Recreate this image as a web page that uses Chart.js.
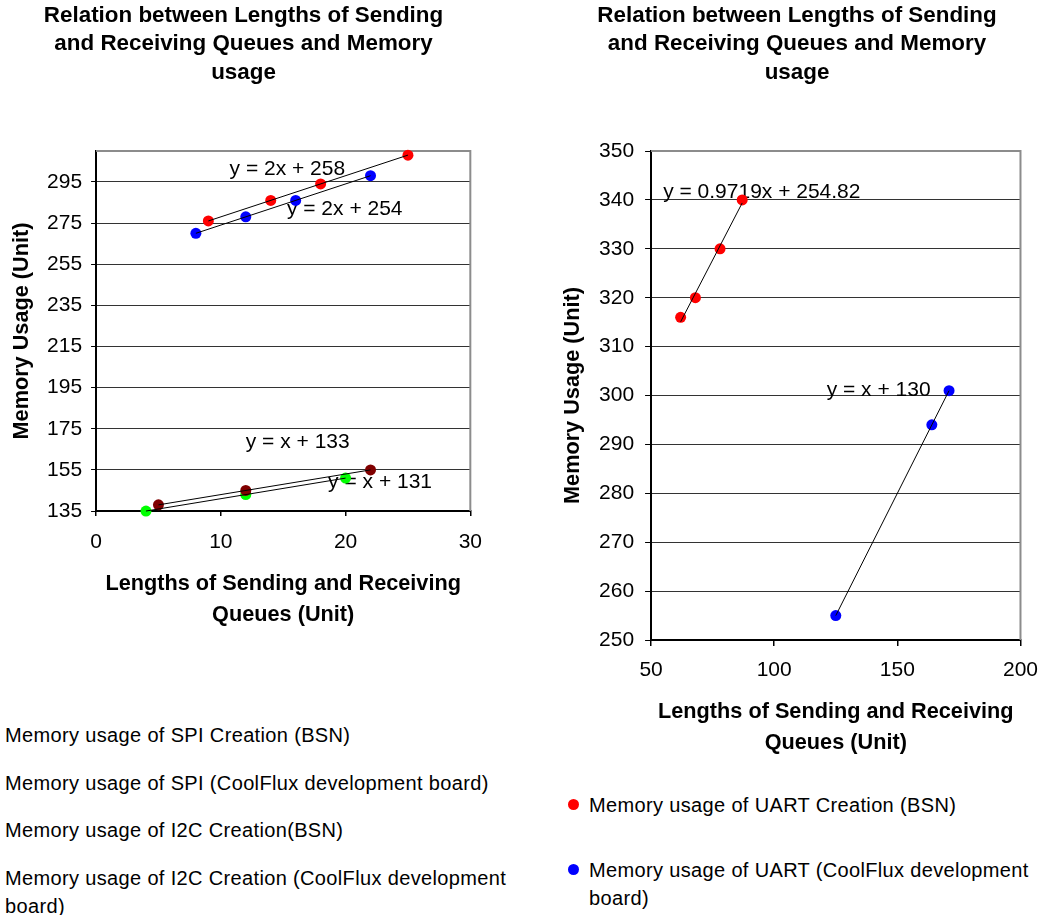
<!DOCTYPE html>
<html>
<head>
<meta charset="utf-8">
<title>Memory usage vs queue lengths</title>
<script src="https://cdn.jsdelivr.net/npm/chart.js@4.4.1/dist/chart.umd.min.js"></script>
<style>
  body { margin: 0; background: #fff; width: 1041px; height: 915px; overflow: hidden; position: relative;
         font-family: "Liberation Sans", Arial, sans-serif; color: #000; }
  .box { position: absolute; top: 0; }
  #leftBox { left: 0; width: 496px; height: 640px; }
  #rightBox { left: 541px; width: 509px; height: 760px; }
  .legend { position: absolute; font-size: 20px; letter-spacing: 0.35px; line-height: 28px; }
  #leftLegend { left: 5px; top: 721px; width: 515px; }
  #leftLegend .item { margin-bottom: 19.7px; }
  #rightLegend { left: 568px; top: 791px; width: 470px; }
  #rightLegend .item { margin-bottom: 37px; display: flex; align-items: flex-start; }
  .mark { flex: none; width: 11px; height: 11px; border-radius: 50%; margin: 8px 10px 0 0; }
</style>
</head>
<body>
<div id="leftBox" class="box"><canvas id="leftChart"></canvas></div>
<div id="rightBox" class="box"><canvas id="rightChart"></canvas></div>
<div id="leftLegend" class="legend"></div>
<div id="rightLegend" class="legend"></div>

<script>
// -------------------------------------------------------------
// Left chart data: SPI / I2C
// -------------------------------------------------------------
const spiBsnX = [9, 14, 18, 25];
const spiBsnY = [276, 286, 294, 308];
const spiBoardX = [8, 12, 16, 22];
const spiBoardY = [270, 278, 286, 298];
const i2cBsnX = [5, 12, 22];
const i2cBsnY = [138, 145, 155];
const i2cBoardX = [4, 12, 20];
const i2cBoardY = [135, 143, 151];

const leftXTicks = [0, 10, 20, 30];
const leftYTicks = [135, 155, 175, 195, 215, 235, 255, 275, 295];

// trendline equations printed on the chart
const leftSlope = [2, 2, 1, 1];
const leftIntercept = [258, 254, 133, 131];
const leftEqText = ['y = 2x + 258', 'y = 2x + 254', 'y = x + 133', 'y = x + 131'];

// -------------------------------------------------------------
// Right chart data: UART
// -------------------------------------------------------------
const uartBsnX = [62, 68, 78, 87];
const uartBsnY = [316, 320, 330, 340];
const uartBoardX = [125, 164, 171];
const uartBoardY = [255, 294, 301];

const rightXTicks = [50, 100, 150, 200];
const rightYTicks = [250, 260, 270, 280, 290, 300, 310, 320, 330, 340, 350];

const rightSlope = [0.9719, 1];
const rightIntercept = [254.82, 130];
const rightEqText = ['y = 0.9719x + 254.82', 'y = x + 130'];

Chart.defaults.font.family = '"Liberation Sans", Arial, sans-serif';
Chart.defaults.color = '#000';

const FONT = '"Liberation Sans", Arial, sans-serif';

// -------------------------------------------------------------
// helpers
// -------------------------------------------------------------
function pointSet(label, xs, ys, color) {
  return {
    label: label,
    data: xs.map((x, i) => ({ x: x, y: ys[i] })),
    backgroundColor: color,
    borderColor: color,
    pointRadius: 5.5,
    pointHoverRadius: 5.5,
    pointBorderWidth: 0,
    showLine: false,
    clip: false,
    order: 2
  };
}

function trendSet(xs, slope, intercept) {
  const x0 = Math.min(...xs);
  const x1 = Math.max(...xs);
  return {
    label: 'trend',
    isTrend: true,
    data: [{ x: x0, y: slope * x0 + intercept }, { x: x1, y: slope * x1 + intercept }],
    showLine: true,
    borderColor: '#000',
    borderWidth: 1,
    pointRadius: 0,
    pointHoverRadius: 0,
    clip: false,
    order: 1
  };
}

function fixedTicks(values) {
  return (axis) => { axis.ticks = values.map(v => ({ value: v })); };
}

// grey top / right border of the plot area
const framePlugin = {
  id: 'frame',
  beforeDatasetsDraw(chart) {
    const { ctx, chartArea: a } = chart;
    ctx.save();
    ctx.strokeStyle = '#8c8c8c';
    ctx.lineWidth = 2;
    ctx.beginPath();
    ctx.moveTo(a.left, a.top);
    ctx.lineTo(a.right, a.top);
    ctx.lineTo(a.right, a.bottom);
    ctx.stroke();
    ctx.restore();
  }
};

// trendline equation texts, anchored in data coordinates
const eqPlugin = {
  id: 'eqLabels',
  beforeDatasetsDraw(chart, args, opts) {
    const { ctx, scales } = chart;
    ctx.save();
    ctx.font = '21px ' + FONT;
    ctx.fillStyle = '#000';
    ctx.textAlign = 'left';
    ctx.textBaseline = 'middle';
    (opts.items || []).forEach(it => {
      ctx.fillText(it.text, scales.x.getPixelForValue(it.x), scales.y.getPixelForValue(it.y));
    });
    ctx.restore();
  }
};

function makeChart(id, cfg) {
  return new Chart(document.getElementById(id), {
    type: 'scatter',
    data: { datasets: cfg.datasets },
    plugins: [framePlugin, eqPlugin],
    options: {
      responsive: true,
      maintainAspectRatio: false,
      animation: false,
      events: [],
      layout: { padding: cfg.padding },
      plugins: {
        legend: { display: false },
        tooltip: { enabled: false },
        title: {
          display: true,
          text: ['Relation between Lengths of Sending', 'and Receiving Queues and Memory', 'usage'],
          color: '#000',
          font: { size: 22.4, weight: 'bold', lineHeight: 1.28 },
          padding: cfg.titlePad
        },
        eqLabels: { items: cfg.eqItems }
      },
      scales: {
        x: {
          type: 'linear',
          min: cfg.xMin,
          max: cfg.xMax,
          afterBuildTicks: fixedTicks(cfg.xTicks),
          grid: { drawOnChartArea: false, drawTicks: true, tickLength: cfg.tickLen, tickColor: '#000', lineWidth: 1.5 },
          border: { color: '#000', width: 2 },
          ticks: { color: '#000', font: { size: 21 }, padding: cfg.xTickPad, maxRotation: 0 },
          title: {
            display: true,
            text: ['Lengths of Sending and Receiving', 'Queues (Unit)'],
            color: '#000',
            font: { size: 21.7, weight: 'bold', lineHeight: 1.4 },
            padding: { top: cfg.xTitlePad, bottom: 0 }
          }
        },
        y: {
          type: 'linear',
          min: cfg.yMin,
          max: cfg.yMax,
          afterBuildTicks: fixedTicks(cfg.yTicks),
          grid: { color: '#333', lineWidth: 1, drawTicks: true, tickLength: cfg.tickLen, tickColor: '#000' },
          border: { color: '#000', width: 2 },
          ticks: { color: '#000', font: { size: 21 }, padding: cfg.yTickPad },
          title: {
            display: true,
            text: 'Memory Usage (Unit)',
            color: '#000',
            font: { size: 21.7, weight: 'bold', lineHeight: 1.2 },
            padding: { top: 0, bottom: cfg.yTitlePad }
          }
        }
      }
    }
  });
}

// HTML legend built from the chart's own datasets
function buildLegend(chart, el, withMarker) {
  chart.data.datasets.filter(d => !d.isTrend).forEach(d => {
    const item = document.createElement('div');
    item.className = 'item';
    if (withMarker) {
      const m = document.createElement('span');
      m.className = 'mark';
      m.style.background = d.backgroundColor;
      item.appendChild(m);
    }
    const t = document.createElement('span');
    t.textContent = d.label;
    item.appendChild(t);
    el.appendChild(item);
  });
}

// -------------------------------------------------------------
// Left chart
// -------------------------------------------------------------
const leftChart = makeChart('leftChart', {
  datasets: [
    pointSet('Memory usage of SPI Creation (BSN)', spiBsnX, spiBsnY, '#ff0000'),
    pointSet('Memory usage of SPI (CoolFlux development board)', spiBoardX, spiBoardY, '#0000ff'),
    pointSet('Memory usage of I2C Creation(BSN)', i2cBsnX, i2cBsnY, '#800000'),
    pointSet('Memory usage of I2C Creation (CoolFlux development board)', i2cBoardX, i2cBoardY, '#00ff00'),
    trendSet(spiBsnX, leftSlope[0], leftIntercept[0]),
    trendSet(spiBoardX, leftSlope[1], leftIntercept[1]),
    trendSet(i2cBsnX, leftSlope[2], leftIntercept[2]),
    trendSet(i2cBoardX, leftSlope[3], leftIntercept[3])
  ],
  eqItems: [
    { text: leftEqText[0], x: 10.7, y: 301 },
    { text: leftEqText[1], x: 15.3, y: 281.5 },
    { text: leftEqText[2], x: 12.0, y: 168.7 },
    { text: leftEqText[3], x: 18.6, y: 149 }
  ],
  padding: { left: 9, right: 18, top: 0, bottom: 10 },
  titlePad: { top: 1, bottom: 64 },
  xMin: 0, xMax: 30, xTicks: leftXTicks,
  yMin: 135, yMax: 310, yTicks: leftYTicks,
  tickLen: 5, xTickPad: 14, yTickPad: 9, xTitlePad: 0, yTitlePad: 3
});

// -------------------------------------------------------------
// Right chart
// -------------------------------------------------------------
const rightChart = makeChart('rightChart', {
  datasets: [
    pointSet('Memory usage of UART Creation (BSN)', uartBsnX, uartBsnY, '#ff0000'),
    pointSet('Memory usage of UART (CoolFlux development board)', uartBoardX, uartBoardY, '#0000ff'),
    trendSet(uartBsnX, rightSlope[0], rightIntercept[0]),
    trendSet(uartBoardX, rightSlope[1], rightIntercept[1])
  ],
  eqItems: [
    { text: rightEqText[0], x: 54.9, y: 341.6 },
    { text: rightEqText[1], x: 121.3, y: 301.1 }
  ],
  padding: { left: 19, right: 16, top: 0, bottom: 2 },
  titlePad: { top: 1, bottom: 64 },
  xMin: 50, xMax: 200, xTicks: rightXTicks,
  yMin: 250, yMax: 350, yTicks: rightYTicks,
  tickLen: 6, xTickPad: 12, yTickPad: 11, xTitlePad: 2, yTitlePad: 2
});

buildLegend(leftChart, document.getElementById('leftLegend'), false);
buildLegend(rightChart, document.getElementById('rightLegend'), true);
</script>
</body>
</html>
